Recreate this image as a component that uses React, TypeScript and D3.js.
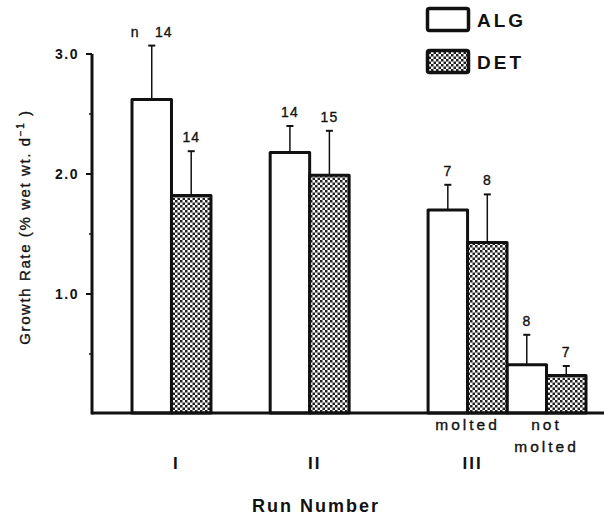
import React from 'react';
import * as d3 from 'd3';

// growth rate per treatment group (mean and standard error, % wet wt. per day)
const groups = ['I', 'II', 'III molted', 'III not molted'];
const algMean = [2.62, 2.18, 1.7, 0.41];
const algSe = [0.45, 0.22, 0.21, 0.25];
const detMean = [1.82, 1.99, 1.43, 0.32];
const detSe = [0.37, 0.37, 0.4, 0.08];
const algN = [14, 14, 7, 8];
const detN = [14, 15, 8, 7];
const subLabels = ['', '', 'molted', 'not molted'];
const runLabels = ['I', 'II', 'III'];
const yTicks = [1, 2, 3];
const yMinorTicks = [0.5, 1.5, 2.5];

const W = 611;
const H = 517;
const FONT = "'Liberation Sans', Arial, Helvetica, sans-serif";

// gap (in bar widths) before each group
const groupGap = [0, 1.5, 2, 0];

// regular text drawn a touch heavier, like the printed original
const ink = { fill: '#111', stroke: '#111', strokeWidth: 0.35 };

export default function App() {
  const axisX = 92;
  const baseY = 413;

  const y = d3.scaleLinear().domain([0, 3]).range([414, 54]);

  // x in bar-width units
  const starts: number[] = [];
  let acc = 0;
  groups.forEach((g, i) => {
    acc += groupGap[i];
    starts.push(acc);
    acc += 2;
  });
  const x = d3.scaleLinear().domain([0, acc]).range([132, 586]);
  const bw = x(1) - x(0);

  const series = [
    { key: 'ALG', mean: algMean, se: algSe, n: algN, fill: '#fff' },
    { key: 'DET', mean: detMean, se: detSe, n: detN, fill: 'url(#checker)' },
  ];

  return (
    <div style={{ position: 'absolute', left: 0, top: 0 }}>
      <svg width={W} height={H} style={{ display: 'block', background: '#fff' }} fontFamily={FONT}>
        <defs>
          <pattern id="checker" width="5" height="5" patternUnits="userSpaceOnUse">
            <rect width="5" height="5" fill="#fff" />
            <rect width="2.5" height="2.5" fill="#222" />
            <rect x="2.5" y="2.5" width="2.5" height="2.5" fill="#222" />
          </pattern>
        </defs>

        {/* bars */}
        {series.map((s, si) =>
          groups.map((g, gi) => {
            const x0 = x(starts[gi] + si);
            const cx = x0 + bw / 2;
            const top = y(s.mean[gi]);
            const errTop = y(s.mean[gi] + s.se[gi]);
            const isFirst = si === 0 && gi === 0;
            return (
              <g key={s.key + g}>
                <line x1={cx} x2={cx} y1={top} y2={errTop} stroke="#111" strokeWidth={1.5} />
                <line x1={cx - 3.5} x2={cx + 3.5} y1={errTop} y2={errTop} stroke="#111" strokeWidth={2} />
                <rect
                  x={x0}
                  y={top}
                  width={bw}
                  height={baseY - top}
                  fill={s.fill}
                  stroke="#111"
                  strokeWidth={3}
                  strokeLinejoin="round"
                />
                {isFirst ? (
                  <>
                    <text x={cx - 17} y={errTop - 9} textAnchor="middle" fontSize={14} {...ink}>n</text>
                    <text x={cx + 12} y={errTop - 9} textAnchor="middle" fontSize={14} {...ink} letterSpacing={1}>{s.n[gi]}</text>
                  </>
                ) : (
                  <text x={cx} y={errTop - 9} textAnchor="middle" fontSize={14} {...ink} letterSpacing={1}>{s.n[gi]}</text>
                )}
              </g>
            );
          })
        )}

        {/* axes */}
        <line x1={axisX} x2={604} y1={baseY} y2={baseY} stroke="#111" strokeWidth={3} />
        <line x1={axisX} x2={axisX} y1={y(3)} y2={baseY + 1.5} stroke="#111" strokeWidth={3} />
        {yTicks.map(t => (
          <g key={t}>
            <line x1={axisX - 6} x2={axisX} y1={y(t)} y2={y(t)} stroke="#111" strokeWidth={2} />
            <text x={79} y={y(t) + 5} textAnchor="end" fontSize={14} fontWeight="bold" fill="#111" letterSpacing={1.5}>
              {t.toFixed(1)}
            </text>
          </g>
        ))}
        {yMinorTicks.map(t => (
          <line key={t} x1={axisX - 3} x2={axisX} y1={y(t)} y2={y(t)} stroke="#111" strokeWidth={1.5} />
        ))}

        {/* y title */}
        <text
          transform={`translate(30, ${227}) rotate(-90)`}
          textAnchor="middle"
          fontSize={15}
          {...ink}
          letterSpacing={1.6}
        >
          Growth Rate (% wet wt. d
          <tspan fontSize={10} dy={-6}>−1</tspan>
          <tspan dy={6}> )</tspan>
        </text>

        {/* sub labels */}
        {subLabels.map((lab, gi) => {
          if (!lab) return null;
          const cx = x(starts[gi] + 1);
          const words = gi === 3 ? ['not', 'molted'] : [lab];
          return words.map((w, wi) => (
            <text key={gi + w} x={cx} y={430 + wi * 22} textAnchor="middle" fontSize={15.5} {...ink} letterSpacing={3}>
              {w}
            </text>
          ));
        })}

        {/* run labels */}
        {runLabels.map((r, ri) => (
          <text key={r} x={x(starts[ri] + 1) + 5} y={469} textAnchor="middle" fontSize={17} fontWeight="bold" fill="#111" letterSpacing={2}>
            {r}
          </text>
        ))}

        <text x={316} y={512} textAnchor="middle" fontSize={18} fontWeight="bold" fill="#111" letterSpacing={2}>
          Run Number
        </text>

        {/* legend */}
        {series.map((s, si) => (
          <g key={s.key} transform={`translate(426, ${7 + si * 42})`}>
            <rect x={1.5} y={1.5} width={41} height={22} rx={2} fill={s.fill} stroke="#111" strokeWidth={3.5} />
            <text x={51} y={20} fontSize={19} fontWeight="bold" fill="#111" letterSpacing={3}>
              {s.key}
            </text>
          </g>
        ))}
      </svg>
    </div>
  );
}
